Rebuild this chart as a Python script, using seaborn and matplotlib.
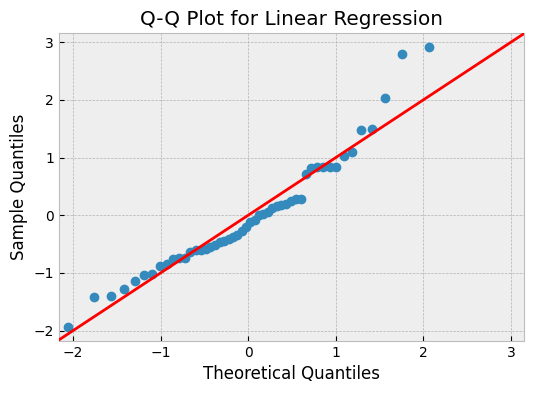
import numpy as np
import seaborn as sns
import matplotlib.pyplot as plt

# theoretical normal quantiles (n = 50) and the sorted residuals
theoretical = [
    -2.062, -1.760, -1.565, -1.416, -1.293, -1.187, -1.093, -1.007, -0.929, -0.856,
    -0.787, -0.722, -0.659, -0.599, -0.541, -0.486, -0.431, -0.377, -0.325, -0.274,
    -0.223, -0.173, -0.123, -0.074, -0.025, 0.025, 0.074, 0.123, 0.173, 0.223,
    0.274, 0.325, 0.377, 0.431, 0.486, 0.541, 0.599, 0.659, 0.722, 0.787,
    0.856, 0.929, 1.007, 1.093, 1.187, 1.293, 1.416, 1.565, 1.760, 2.062,
]
sample = [
    -1.93, -1.41, -1.40, -1.27, -1.14, -1.04, -1.01, -0.88, -0.85, -0.76,
    -0.74, -0.74, -0.63, -0.61, -0.60, -0.59, -0.55, -0.51, -0.47, -0.44,
    -0.41, -0.38, -0.35, -0.28, -0.21, -0.12, -0.09, 0.00, 0.03, 0.05,
    0.12, 0.16, 0.18, 0.20, 0.25, 0.28, 0.29, 0.72, 0.82, 0.83,
    0.83, 0.83, 0.83, 1.02, 1.10, 1.48, 1.50, 2.03, 2.80, 2.92,
]

plt.style.use("bmh")

fig = plt.figure(figsize=(5.33, 3.93), dpi=100)
ax = fig.add_axes([59 / 533, 52 / 393, 465 / 533, 308 / 393])

sns.scatterplot(x=theoretical, y=sample, ax=ax, color="#348ABD",
                edgecolor="#348ABD", linewidth=1, s=36, zorder=3)

# 45 degree reference line
ax.axline((0, 0), slope=1, color="red", linewidth=2, zorder=4)

ax.set_xlim(-2.16, 3.15)
ax.set_ylim(-2.18, 3.16)
ax.set_title("Q-Q Plot for Linear Regression")
ax.set_xlabel("Theoretical Quantiles")
ax.set_ylabel("Sample Quantiles")

fig.savefig("out.png", dpi=100)
